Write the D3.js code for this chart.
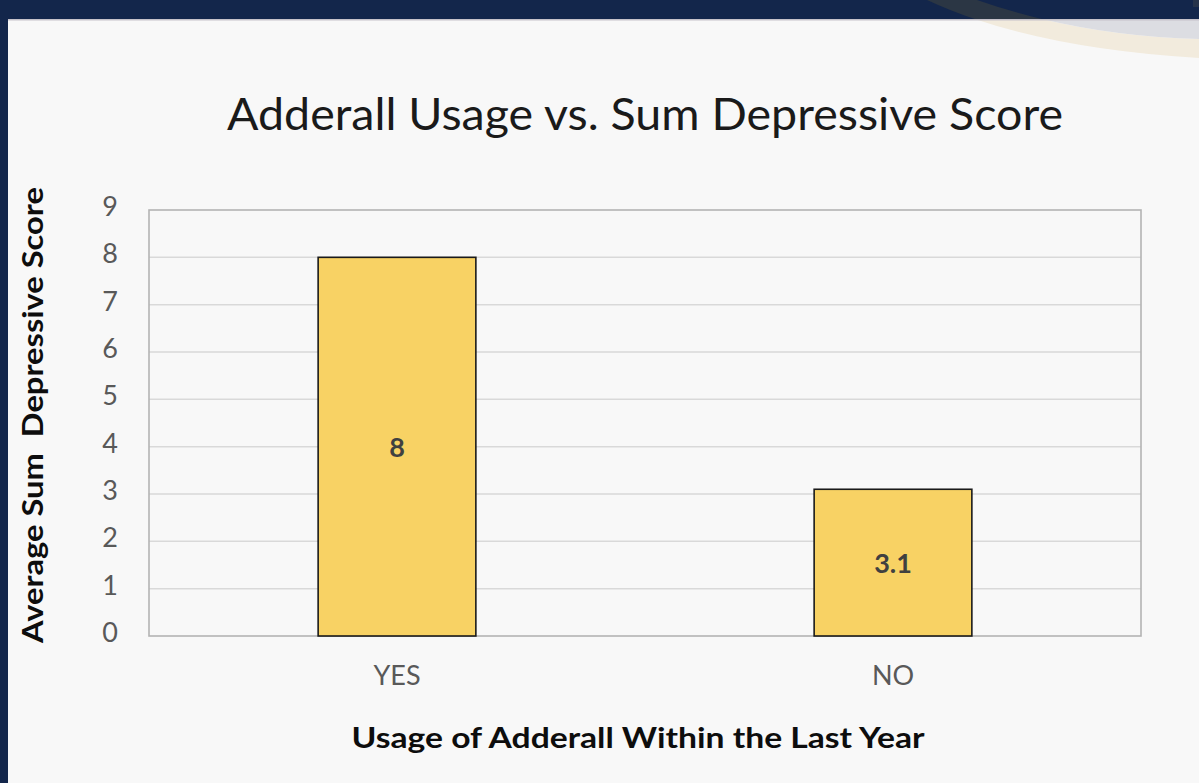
<!DOCTYPE html>
<html>
<head>
<meta charset="utf-8">
<script src="https://cdn.jsdelivr.net/npm/d3@7"></script>
<style>
  html, body { margin: 0; padding: 0; background: #f8f8f8; overflow: hidden; }
  svg { display: block; }
  text { font-family: Lato, "Open Sans", sans-serif; }
</style>
</head>
<body>
<svg id="chart" width="1199" height="783"></svg>
<script>
const categories = ["YES", "NO"];
const values = [8, 3.1];
const valueLabels = ["8", "3.1"];
const yTicks = [0, 1, 2, 3, 4, 5, 6, 7, 8, 9];
const chartTitle = "Adderall Usage vs. Sum Depressive Score";
const xTitle = "Usage of Adderall Within the Last Year";
const yTitle = "Average Sum  Depressive Score";

const W = 1199, H = 783;
const svg = d3.select("#chart");

// background & slide frame
svg.append("rect").attr("width", W).attr("height", H).attr("fill", "#f8f8f8");

const defs = svg.append("defs");
defs.append("clipPath").attr("id", "clipTop").append("rect").attr("x", 0).attr("y", 0).attr("width", W).attr("height", 19);
defs.append("clipPath").attr("id", "clipBottom").append("rect").attr("x", 0).attr("y", 19).attr("width", W).attr("height", H - 19);

const stripD = "M 927,0 Q 1030,48 1199,58 L 1199,39 Q 1080,36 977,0 Z";
const innerD = "M 977,0 Q 1080,36 1199,39 L 1199,0 Z";

const gBottom = svg.append("g").attr("clip-path", "url(#clipBottom)");
gBottom.append("path").attr("d", stripD).attr("fill", "#f2ebdd");
gBottom.append("path").attr("d", innerD).attr("fill", "#dcdde2");

const gTop = svg.append("g").attr("clip-path", "url(#clipTop)");
gTop.append("rect").attr("x", 0).attr("y", 0).attr("width", W).attr("height", 19).attr("fill", "#13264b");
gTop.append("path").attr("d", stripD).attr("fill", "#2b3644");
gTop.append("rect").attr("x", 1193).attr("y", 0).attr("width", 6).attr("height", 7).attr("fill", "#26334a");

svg.append("rect").attr("x", 0).attr("y", 0).attr("width", 8).attr("height", H).attr("fill", "#13264b");
svg.append("line").attr("x1", 8).attr("x2", W).attr("y1", 19.8).attr("y2", 19.8).attr("stroke", "#c6c2ca").attr("stroke-width", 1.5);

const m = { left: 149, right: 1141, top: 210, bottom: 636 };

const x = d3.scaleBand().domain(categories).range([m.left, m.right]).padding(0);
const y = d3.scaleLinear().domain([0, 9]).range([m.bottom, m.top]);
const barW = x.bandwidth() * 0.318;

// gridlines
svg.append("g").selectAll("line").data(yTicks.filter(t => t > 0 && t < 9)).join("line")
  .attr("x1", m.left).attr("x2", m.right)
  .attr("y1", d => y(d)).attr("y2", d => y(d))
  .attr("stroke", "#d9d9d9").attr("stroke-width", 1.5);

// plot frame
svg.append("rect").attr("x", m.left).attr("y", m.top)
  .attr("width", m.right - m.left).attr("height", m.bottom - m.top)
  .attr("fill", "none").attr("stroke", "#b3b3b3").attr("stroke-width", 1.6);

// bars
svg.append("g").selectAll("rect").data(values).join("rect")
  .attr("x", (d, i) => x(categories[i]) + x.bandwidth() / 2 - barW / 2)
  .attr("y", d => y(d))
  .attr("width", barW)
  .attr("height", d => y(0) - y(d))
  .attr("fill", "#f8d264")
  .attr("stroke", "#1a1a1a").attr("stroke-width", 1.6);

// value labels
svg.append("g").selectAll("text").data(values).join("text")
  .attr("x", (d, i) => x(categories[i]) + x.bandwidth() / 2)
  .attr("y", d => (y(d) + y(0)) / 2 + 10)
  .attr("text-anchor", "middle")
  .attr("font-size", 27).attr("font-weight", 700).attr("fill", "#404040")
  .text((d, i) => valueLabels[i]);

// y axis tick labels
const yAxis = d3.axisLeft(y).tickValues(yTicks).tickSize(0).tickPadding(0).tickFormat(d3.format("d"));
const gy = svg.append("g").attr("transform", `translate(${m.left - 31},-3)`).call(yAxis);
gy.select(".domain").remove();
gy.selectAll("text").attr("font-family", "Lato, sans-serif").attr("font-size", 27).attr("fill", "#595959");

// x axis tick labels
const xAxis = d3.axisBottom(x).tickSize(0).tickPadding(0);
const gx = svg.append("g").attr("transform", `translate(0,${m.bottom + 30})`).call(xAxis);
gx.select(".domain").remove();
gx.selectAll("text").attr("font-family", "Lato, sans-serif").attr("font-size", 27).attr("fill", "#595959");

// title
svg.append("text").attr("x", 645).attr("y", 130).attr("text-anchor", "middle")
  .attr("font-size", 44).attr("fill", "#1a1a1a")
  .attr("textLength", 836).attr("lengthAdjust", "spacingAndGlyphs")
  .text(chartTitle);

// x title
svg.append("text").attr("x", 638).attr("y", 748).attr("text-anchor", "middle")
  .attr("font-size", 29).attr("font-weight", 700).attr("fill", "#0d0d0d")
  .attr("textLength", 573).attr("lengthAdjust", "spacingAndGlyphs")
  .text(xTitle);

// y title
svg.append("text").attr("transform", "translate(43,415) rotate(-90)").attr("text-anchor", "middle")
  .attr("font-size", 29).attr("font-weight", 700).attr("fill", "#0d0d0d")
  .attr("textLength", 456).attr("lengthAdjust", "spacingAndGlyphs")
  .attr("xml:space", "preserve").style("white-space", "pre")
  .text(yTitle);
</script>
</body>
</html>
